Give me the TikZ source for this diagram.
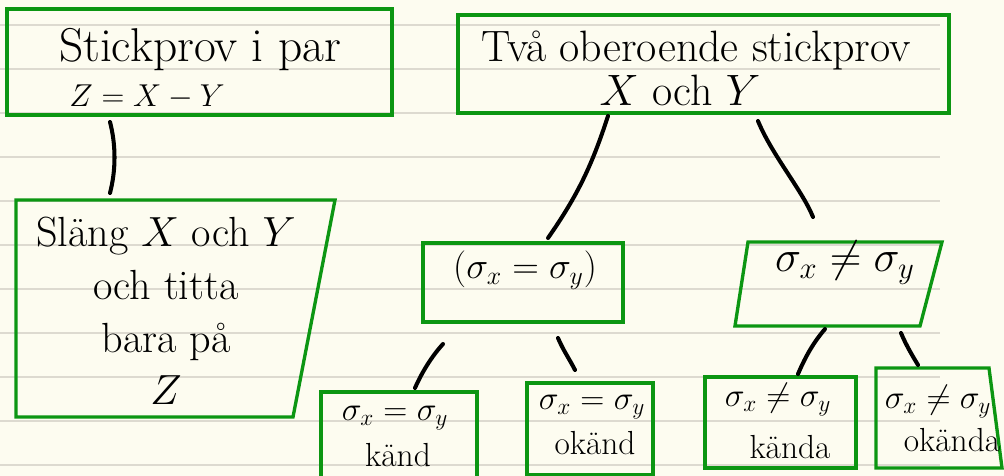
\RequirePackage{fix-cm}
\documentclass[tikz,border=0pt]{standalone}
\usepackage{amsmath,amssymb}
\usepackage{xcolor}
\usepackage{tikz}
\usetikzlibrary{arrows.meta,positioning,calc}
\definecolor{paper}{HTML}{FDFCF0}
\definecolor{ruling}{HTML}{DDDAD0}
\definecolor{frame}{HTML}{0C9612}

\begin{document}
\begin{tikzpicture}[x=0.02cm, y=-0.02cm,
  box/.style={draw=frame, line width=1.9pt, line join=miter},
  rule/.style={draw=ruling, line width=0.8pt},
  conn/.style={draw=black, line width=2.3pt, line cap=round},
  txt/.style={font=\fontsize{25}{30}\selectfont, inner sep=0pt},
  small/.style={font=\fontsize{19}{23}\selectfont, inner sep=0pt}]
  \useasboundingbox[fill=paper] (0,0) rectangle (1004,476);
  \foreach \y in {25,69,...,465}
    \draw[rule] (0,\y) -- (940,\y);
  % boxes
  \draw[box] (7,9) rectangle (392,115);
  \draw[box] (458,15) rectangle (949,113);
  \draw[box] (16,200) -- (335,200) -- (293,417) -- (16,417) -- cycle;
  \draw[box] (423,243) rectangle (623,322);
  \draw[box] (748,242) -- (942,242) -- (920,326) -- (735,326) -- cycle;
  \draw[box] (321,392) rectangle (477,492);
  \draw[box] (527,383) rectangle (653,475);
  \draw[box] (705,377) rectangle (856,468);
  \draw[box] (876,368) -- (989,368) -- (1002,468) -- (876,468) -- cycle;
  % texts
  \node[txt, font=\fontsize{27}{32}\selectfont] (par) at (200,50) {Stickprov i par};
  \node[txt, font=\fontsize{18}{22}\selectfont] (zxy) at (147,97) {$Z = X - Y$};
  \node[txt] (tva) at (696,50) {Två oberoende stickprov};
  \node[txt] (xy) at (680,90) {$X$ och $Y$};
  \node[txt, align=center, font=\fontsize{24}{30}\selectfont] (slang) at (166,311)
    {Släng $X$ och $Y$\\och titta\\bara på\\$Z$};
  \node[txt, font=\fontsize{21}{26}\selectfont] (lika) at (525,270) {$(\sigma_x = \sigma_y)$};
  \node[txt] (olika) at (845,263) {$\sigma_x \neq \sigma_y$};
  \node[small] (lk1) at (395,418) {$\sigma_x = \sigma_y$};
  \node[small] (lk2) at (398,455) {känd};
  \node[small] (lo1) at (592,407) {$\sigma_x = \sigma_y$};
  \node[small] (lo2) at (595,443) {okänd};
  \node[small] (ok1) at (778,400) {$\sigma_x \neq \sigma_y$};
  \node[small] (ok2) at (790,447) {kända};
  \node[small] (oo1) at (938,402) {$\sigma_x \neq \sigma_y$};
  \node[small] (oo2) at (952,440) {okända};
  % connector ends
  \coordinate (par-s) at (110,122);
  \coordinate (slang-n) at (110,193);
  \coordinate (tva-sw) at (608,116);
  \coordinate (lika-n) at (548,238);
  \coordinate (tva-se) at (758,121);
  \coordinate (olika-n) at (813,217);
  \coordinate (lika-sw) at (443,344);
  \coordinate (lk-n) at (415,388);
  \coordinate (lika-se) at (558,338);
  \coordinate (lo-n) at (575,370);
  \coordinate (olika-sw) at (825,329);
  \coordinate (ok-n) at (798,374);
  \coordinate (olika-se) at (901,333);
  \coordinate (oo-n) at (918,365);
  % connectors
  \draw[conn] (par-s) .. controls (116,145) and (116,170) .. (slang-n);
  \draw[conn] (tva-sw) .. controls (592,165) and (578,195) .. (lika-n);
  \draw[conn] (tva-se) .. controls (772,155) and (802,190) .. (olika-n);
  \draw[conn] (lika-sw) .. controls (432,356) and (422,372) .. (lk-n);
  \draw[conn] (lika-se) .. controls (563,350) and (570,360) .. (lo-n);
  \draw[conn] (olika-sw) .. controls (812,344) and (804,360) .. (ok-n);
  \draw[conn] (olika-se) .. controls (906,345) and (912,355) .. (oo-n);
\end{tikzpicture}
\end{document}
